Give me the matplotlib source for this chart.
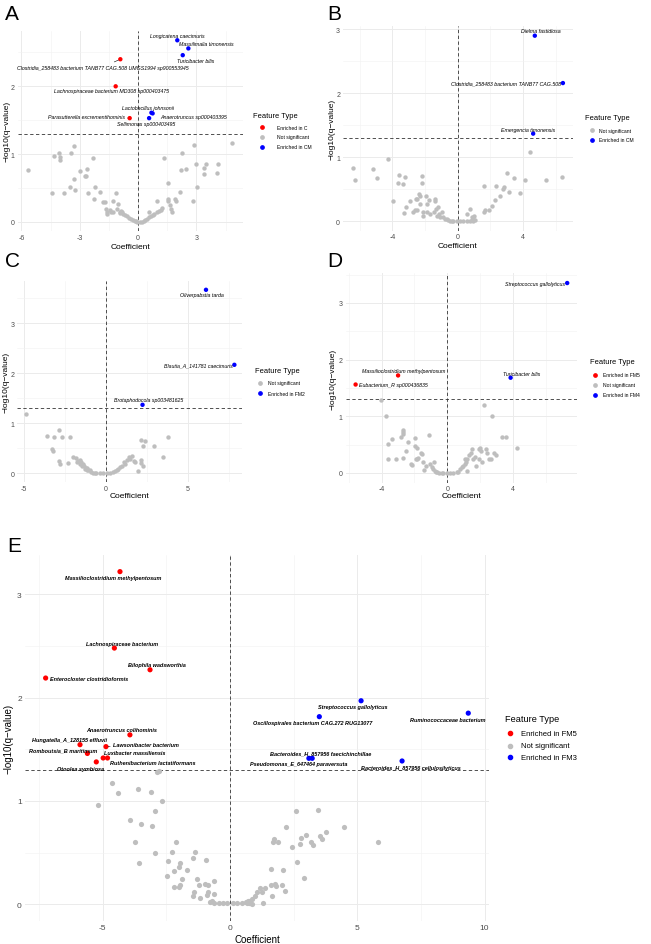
import matplotlib
matplotlib.use("Agg")
import matplotlib.pyplot as plt
from matplotlib.lines import Line2D
from matplotlib.ticker import MultipleLocator

plt.rcParams['font.family'] = ['Liberation Sans', 'DejaVu Sans']
plt.rcParams['axes.unicode_minus'] = False

W, H = 651, 945

# ---------------- panel A : C vs CM ----------------
a_ns_x = [-5.68, -4.44, -4.31, -4.05, -4.03, -4.01, -3.83, -3.5, -3.45, -3.29, -3.28, -3.22,
          -2.98, -2.74, -2.68, -2.61, -2.56, -2.33, -2.21, -2.25, -1.96, -1.78, -1.68, -1.65,
          -1.61, -1.58, -1.13, -1.27, -1.01, -1.44, -1.39, -1.27, -1.10, -0.95, -0.91, -0.86,
          -0.81, -0.75, -0.67, -0.58, -0.48, -0.38, -0.27, -0.17, -0.10, -0.05,
          0.10, 0.19, 0.31, 0.38, 0.45, 0.55, 0.65, 0.75, 0.84, 0.96, 1.06, 1.2, 1.23, 0.58,
          0.96, 1.34, 1.53, 1.53, 1.56, 1.65, 1.72, 1.75, 1.9, 1.96, 2.16, 2.21, 2.28, 2.45,
          2.85, 2.9, 2.97, 3.04, 3.38, 3.4, 3.52, 4.1, 4.08, 4.85]
a_ns_y = [0.76, 0.42, 0.97, 1.01, 0.95, 0.91, 0.42, 0.51, 1.02, 1.12, 0.63, 0.47,
          0.75, 0.68, 0.68, 0.78, 0.42, 0.94, 0.51, 0.33, 0.44, 0.29, 0.29, 0.19,
          0.14, 0.11, 0.43, 0.30, 0.26, 0.18, 0.14, 0.14, 0.19, 0.14, 0.13, 0.16,
          0.14, 0.12, 0.10, 0.08, 0.06, 0.04, 0.02, 0.015, 0.01, 0.0,
          0.0, 0.0, 0.01, 0.02, 0.04, 0.07, 0.09, 0.10, 0.11, 0.14, 0.16, 0.18, 0.21, 0.15,
          0.30, 0.94, 0.57, 0.34, 0.31, 0.25, 0.19, 0.14, 0.34, 0.30, 0.44, 0.77, 1.02, 0.78,
          0.30, 1.14, 0.86, 0.51, 0.70, 0.80, 0.86, 0.86, 0.72, 1.16]
a_sig_names = ["Longicatena caecimuris", "Massilimalia timonensis", "Turicibacter bilis",
               "Clostridia_258483 bacterium TANB77 CAG.508 UMGS1994 sp900553945",
               "Lachnospiraceae bacterium MD308 sp000403475", "Lactobacillus johnsonii",
               "Anaerotruncus sp000403395", "Parasutterella excrementihominis",
               "Sellimonas sp000403495"]
a_sig_x = [2.02, 2.59, 2.30, -0.91, -1.15, 0.69, 0.75, -0.43, 0.57]
a_sig_y = [2.68, 2.56, 2.46, 2.40, 2.00, 1.61, 1.60, 1.53, 1.53]
a_sig_grp = ["CM", "CM", "CM", "C", "C", "CM", "CM", "C", "CM"]
a_groups = ["C", "NS", "CM"]
a_group_labels = ["Enriched in C", "Not significant", "Enriched in CM"]

# ---------------- panel B : CM only ----------------
b_ns_x = [-6.42, -6.26, -5.17, -4.94, -4.29, -3.94, -3.65, -3.59, -3.38, -3.22, -3.15, -3.26,
          -2.93, -2.73, -2.6, -2.56, -2.48, -2.48, -2.36, -2.32, -2.28, -2.19, -2.19, -2.15,
          -2.11, -1.95, -1.91, -1.78, -1.87, -1.70, -1.39, -1.37, -1.44, -1.33, -1.29, -1.19,
          -1.13, -1.09, -0.98, -0.88, -0.78, -0.68, -0.57, -0.47, -0.37, -0.27, -0.06, 0.14,
          0.35, 0.55, 0.76, 0.86, 0.96, 1.07, 0.57, 0.78, 0.86, 0.92, 1.0,
          1.62, 1.6, 1.64, 1.93, 2.11, 2.26, 2.36, 2.56, 2.77, 2.83, 3.02, 3.12, 3.47, 3.8,
          4.1, 4.45, 5.4, 6.4]
b_ns_y = [0.84, 0.64, 0.81, 0.67, 0.98, 0.31, 0.60, 0.72, 0.58, 0.69, 0.23, 0.13,
          0.32, 0.14, 0.17, 0.35, 0.35, 0.17, 0.43, 0.39, 0.27, 0.71, 0.60, 0.15,
          0.09, 0.39, 0.27, 0.33, 0.14, 0.11, 0.35, 0.32, 0.14, 0.19, 0.09, 0.23,
          0.11, 0.06, 0.14, 0.06, 0.04, 0.03, 0.02, 0.01, 0.01, 0.0, 0.0, 0.0,
          0.0, 0.0, 0.01, 0.02, 0.01, 0.02, 0.12, 0.20, 0.06, 0.04, 0.09,
          0.55, 0.15, 0.17, 0.17, 0.24, 0.33, 0.55, 0.40, 0.50, 0.54, 0.76, 0.46, 0.68, 0.44,
          0.64, 1.09, 0.64, 0.70]
b_sig_names = ["Dielma fastidiosa", "Clostridia_258483 bacterium TANB77 CAG.508",
               "Emergencia timonensis"]
b_sig_x = [4.72, 6.44, 4.62]
b_sig_y = [2.90, 2.16, 1.37]
b_sig_grp = ["CM", "CM", "CM"]
b_groups = ["NS", "CM"]
b_group_labels = ["Not significant", "Enriched in CM"]

# ---------------- panel C : FM2 ----------------
c_ns_x = [-4.86, -3.62, -3.26, -3.22, -3.16, -2.85, -2.71, -2.89, -2.79, -2.19, -2.33,
          -1.98, -1.82, -1.71, -1.61, -1.51, -1.40, -1.34, -1.24, -1.16, -1.07, -0.99, -0.89,
          -0.79, -0.68, -0.58, -0.37, -0.17, 0.04, 0.25, 0.45, 0.56, 0.66, 0.76, 0.87, 0.97,
          1.07, 1.18, 1.28, 1.38, 1.49, 1.59, 1.69, 1.80, 1.94, -1.78, -1.61, -1.45, -1.30,
          -1.16, 2.13, 2.15, 2.11, 2.27, 2.36, 2.93, 3.49, 3.76, 2.23]
c_ns_y = [1.18, 0.75, 0.49, 0.45, 0.73, 0.87, 0.73, 0.25, 0.19, 0.73, 0.20,
          0.32, 0.30, 0.25, 0.27, 0.22, 0.19, 0.14, 0.11, 0.10, 0.07, 0.06, 0.03,
          0.01, 0.01, 0.0, 0.0, 0.0, 0.0, 0.01, 0.02, 0.05, 0.07, 0.09, 0.12, 0.15,
          0.22, 0.19, 0.27, 0.32, 0.29, 0.34, 0.25, 0.22, 0.05, 0.22, 0.19, 0.15, 0.09,
          0.07, 0.21, 0.27, 0.66, 0.54, 0.65, 0.54, 0.33, 0.73, 0.15]
c_sig_names = ["Oliverpabstia tarda", "Blautia_A_141781 caecimuris",
               "Brotaphodocola sp003481625"]
c_sig_x = [6.10, 7.83, 2.23]
c_sig_y = [3.67, 2.17, 1.37]
c_sig_grp = ["FM2", "FM2", "FM2"]
c_groups = ["NS", "FM2"]
c_group_labels = ["Not significant", "Enriched in FM2"]

# ---------------- panel D : FM5 vs FM4 ----------------
d_ns_x = [-4.02, -3.76, -3.61, -3.61, -3.35, -3.14, -2.84, -2.73, -2.69, -2.69, -2.73, -2.53,
          -2.39, -2.20, -2.16, -1.98, -1.98, -1.84, -1.92, -1.84, -1.78, -1.63, -1.55, -1.51,
          -1.39, -1.27, -1.12, -1.06, -0.96, -0.86, -0.78, -0.69, -0.61, -0.49, -0.35, -0.24,
          -0.04, 0.16, 0.37, 0.57, 0.67, 0.78, 0.88, 0.98, 1.08, 1.14, 1.18, -0.82, 1.08,
          1.22, 1.35, 1.43, 1.49, 1.59, 1.76, 1.69, 1.92, 2.0, 2.04, 1.96, 2.10, 2.24, 2.37,
          2.45, 2.57, 2.69, 2.82, 2.71, 2.98, 3.33, 3.59, 4.24]
d_ns_y = [1.29, 1.01, 0.51, 0.24, 0.60, 0.24, 0.63, 0.76, 0.72, 0.69, 0.26, 0.39,
          0.55, 0.16, 0.14, 0.62, 0.48, 0.44, 0.25, 0.24, 0.26, 0.35, 0.34, 0.19,
          0.06, 0.13, 0.67, 0.16, 0.10, 0.07, 0.04, 0.02, 0.01, 0.0, 0.0, 0.0,
          0.0, 0.0, 0.0, 0.01, 0.02, 0.07, 0.10, 0.12, 0.16, 0.19, 0.04, 0.19, 0.25,
          0.25, 0.31, 0.36, 0.42, 0.24, 0.12, 0.29, 0.42, 0.44, 0.39, 0.25, 0.19, 1.19, 0.42,
          0.35, 0.24, 0.25, 0.35, 1.01, 0.32, 0.64, 0.64, 0.44]
d_sig_names = ["Streptococcus gallolyticus", "Massilioclostridium methylpentosum",
               "Eubacterium_R sp000436835", "Turicibacter bilis"]
d_sig_x = [7.31, -3.00, -5.59, 3.86]
d_sig_y = [3.35, 1.72, 1.56, 1.68]
d_sig_grp = ["FM4", "FM5", "FM5", "FM4"]
d_groups = ["FM5", "NS", "FM4"]
d_group_labels = ["Enriched in FM5", "Not significant", "Enriched in FM4"]

# ---------------- panel E : FM5 vs FM3 ----------------
e_ns_x = [-2.85, -2.77, -4.65, -4.39, -3.63, -3.11, -2.65, -5.17, -2.93, -3.93, -3.5, -3.08,
          -3.73, -2.11, -2.95, -2.26, -1.39, -1.44, -0.93, -3.57, -2.45, -1.95, -2.01, -2.21,
          -1.70, -2.49, -1.88, -1.28, -0.64, -1.21, -0.98, -0.88, -1.95, -2.0, -2.19, -1.42,
          -0.88, -0.61, -1.46, -1.18, -0.9, -0.77, -0.69, -0.61, -0.44, -0.28, -0.11, 0.13,
          0.29, 0.46, 0.62, 0.70, 0.79, 0.87,
          2.59, 3.44, 2.19, 4.48, 3.78, 2.98, 2.78, 3.54, 3.6, 1.72, 1.69, 1.90, 5.83, 3.18,
          3.27, 2.75, 2.45, 2.62, 1.60, 2.09, 2.91, 1.60, 1.77, 1.80, 2.05, 2.18, 1.64, 0.98,
          1.19, 1.37, 1.24, 1.05, 1.28, 0.75, 0.86, 0.65, 0.73]
e_ns_y = [1.28, 1.29, 1.17, 1.08, 1.12, 1.09, 1.00, 0.96, 0.90, 0.82, 0.78, 0.76,
          0.60, 0.60, 0.50, 0.51, 0.51, 0.45, 0.43, 0.40, 0.42, 0.40, 0.36, 0.32,
          0.33, 0.27, 0.24, 0.24, 0.23, 0.19, 0.20, 0.19, 0.19, 0.17, 0.17, 0.12,
          0.12, 0.10, 0.08, 0.06, 0.09, 0.02, 0.03, 0.01, 0.01, 0.01, 0.01, 0.01,
          0.01, 0.01, 0.02, 0.03, 0.01, 0.0,
          0.90, 0.91, 0.75, 0.75, 0.70, 0.67, 0.64, 0.66, 0.63, 0.63, 0.60, 0.60, 0.60, 0.60,
          0.57, 0.58, 0.55, 0.41, 0.34, 0.33, 0.25, 0.19, 0.20, 0.18, 0.19, 0.13, 0.08, 0.08,
          0.16, 0.16, 0.12, 0.12, 0.01, 0.03, 0.05, 0.01, 0.01]
e_sig_names = ["Massilioclostridium methylpentosum", "Lachnospiraceae bacterium",
               "Bilophila wadsworthia", "Enterocloster clostridioformis",
               "Anaerotruncus colihominis", "Hungatella_A_128155 effluvii",
               "Lawsonibacter bacterium", "Romboutsia_B maritimum", "Luxibacter massiliensis",
               "Ruthenibacterium lactatiformans", "Otoolea symbiosa",
               "Streptococcus gallolyticus", "Oscillospirales bacterium CAG.272 RUG13077",
               "Ruminococcaceae bacterium", "Bacteroides_H_857956 faecichinchillae",
               "Pseudomonas_E_647464 paraversuta", "Bacteroides_H_857956 cellulosilyticus"]
e_sig_x = [-4.32, -4.54, -3.14, -7.24, -3.93, -5.89, -4.87, -5.60, -4.98, -4.81, -5.25,
           5.15, 3.51, 9.36, 3.23, 3.10, 6.76]
e_sig_y = [3.22, 2.48, 2.27, 2.19, 1.64, 1.545, 1.526, 1.46, 1.416, 1.416, 1.378,
           1.97, 1.816, 1.85, 1.413, 1.413, 1.387]
e_sig_grp = ["FM5"] * 11 + ["FM3"] * 6
e_groups = ["FM5", "NS", "FM3"]
e_group_labels = ["Enriched in FM5", "Not significant", "Enriched in FM3"]

# label placement (offset pixels from the point, alignment, leader segment)
a_lab = [(0, 5, 'center', 0), (18, 5, 'center', 0), (13, -5, 'center', 0),
         (-18, -8, 'center', 1), (-4, -4, 'center', 0), (-4, 5, 'center', 0),
         (8, -3, 'left', 0), (-5, 2, 'right', 1), (-3, -5, 'center', 0)]
b_lab = [(6, 5, 'center', 0), (-2, 0, 'right', 0), (-5, 4, 'center', 0)]
c_lab = [(-4, -4.5, 'center', 0), (-2, 0, 'right', 0), (6, 5, 'center', 0)]
d_lab = [(-2, 0, 'right', 0), (6, 4.5, 'center', 0), (3, 0, 'left', 0), (11, 4.5, 'center', 0)]
e_lab = [(-7, -5.7, 'center', 0), (8, 5, 'center', 0), (7, 5.4, 'center', 0),
         (4, 0, 'left', 0), (-8, 5, 'center', 0), (-11, 5, 'center', 0), (7, 2, 'left', 1),
         (-24, 3.3, 'center', 0), (1, 5, 'left', 0), (3, -5, 'left', 0), (-16, -6.7, 'center', 0),
         (-8, -5.7, 'center', 0), (-7, -6, 'center', 0), (-21, -6, 'center', 0),
         (8, 5, 'center', 0), (-10.5, -5.7, 'center', 0), (9, -6.7, 'center', 0)]

colors = {"C": "red", "FM5": "red", "CM": "blue", "FM2": "blue", "FM4": "blue",
          "FM3": "blue", "NS": "#BEBEBE"}

fig = plt.figure(figsize=(W / 100, H / 100), dpi=100)


def fx(px):
    return px / W


def fy(py):
    return 1 - py / H


def panel(box, xlim, ylim, xmaj, ymaj, ns_x, ns_y, names, sx, sy, grp, lab,
          tick_fs, title_fs, lab_fs, lab_weight, pt_size, ylab_px, xlab_py):
    left, top, right, bottom = box
    ax = fig.add_axes([fx(left), fy(bottom), (right - left) / W, (bottom - top) / H])
    ax.set_xlim(xlim)
    ax.set_ylim(ylim)
    ax.xaxis.set_major_locator(MultipleLocator(xmaj))
    ax.xaxis.set_minor_locator(MultipleLocator(xmaj / 2))
    ax.yaxis.set_major_locator(MultipleLocator(ymaj))
    ax.yaxis.set_minor_locator(MultipleLocator(ymaj / 2))
    ax.grid(which='major', color='#EBEBEB', lw=0.7)
    ax.grid(which='minor', color='#F2F2F2', lw=0.4)
    ax.set_axisbelow(True)
    for s in ax.spines.values():
        s.set_visible(False)
    ax.tick_params(which='both', length=0, labelsize=tick_fs, labelcolor='#4D4D4D', pad=2)

    ax.scatter(ns_x, ns_y, s=pt_size, color=colors["NS"], lw=0, zorder=2)
    ax.scatter(sx, sy, s=pt_size, color=[colors[g] for g in grp], lw=0, zorder=3)
    ax.axhline(1.30103, color='#333333', lw=0.6, ls=(0, (4, 3)), zorder=1)
    ax.axvline(0, color='#333333', lw=0.6, ls=(0, (4, 3)), zorder=1)

    for n, x, y, (dx, dy, ha, seg) in zip(names, sx, sy, lab):
        kw = {}
        if seg:
            kw['arrowprops'] = dict(arrowstyle='-', lw=0.4, color='black',
                                    shrinkA=0, shrinkB=1.5)
        ax.annotate(n, (x, y), xytext=(dx, dy), textcoords='offset pixels',
                    ha=ha, va='center', fontsize=lab_fs, fontstyle='italic',
                    fontweight=lab_weight, zorder=4, **kw)

    ax.set_xlabel('Coefficient', fontsize=title_fs)
    ax.set_ylabel('\u2212log10(q\u2212value)', fontsize=title_fs)
    ax.xaxis.set_label_coords(0.5, (bottom - xlab_py) / (bottom - top))
    ax.yaxis.set_label_coords((ylab_px - left) / (right - left), 0.5)
    ax.xaxis.label.set_va('center')
    ax.yaxis.label.set_va('center')
    return ax


def legend(tx, ty, dot_x, text_x, ys, groups, labels, title_fs, text_fs, dot_ms):
    fig.text(fx(tx), fy(ty), 'Feature Type', fontsize=title_fs, va='center', ha='left')
    for g, lbl, y in zip(groups, labels, ys):
        fig.add_artist(Line2D([fx(dot_x)], [fy(y)], marker='o', ms=dot_ms, lw=0,
                              color=colors[g], transform=fig.transFigure))
        fig.text(fx(text_x), fy(y), lbl, fontsize=text_fs, va='center', ha='left')


# A
panel((17.5, 31.8, 243, 231.8), (-6.2, 5.4), (-0.134, 2.82), 3, 1,
      a_ns_x, a_ns_y, a_sig_names, a_sig_x, a_sig_y, a_sig_grp, a_lab,
      5, 6, 3.8, 'normal', 10, 7, 247)
legend(253, 116.7, 262, 277, [128.3, 137.7, 147.7], a_groups, a_group_labels, 5.4, 3.6, 2.4)

# B
panel((342.9, 27.4, 572.7, 231.6), (-7.03, 7.04), (-0.145, 3.045), 4, 1,
      b_ns_x, b_ns_y, b_sig_names, b_sig_x, b_sig_y, b_sig_grp, b_lab,
      5, 6, 3.8, 'normal', 10, 332, 246.7)
legend(585, 118.3, 592, 599, [131, 140.7], b_groups, b_group_labels, 5.4, 3.6, 2.4)

# C
panel((17.4, 281.8, 242.4, 483.3), (-5.4, 8.32), (-0.18, 3.85), 5, 1,
      c_ns_x, c_ns_y, c_sig_names, c_sig_x, c_sig_y, c_sig_grp, c_lab,
      5, 6, 3.8, 'normal', 10, 6, 497)
legend(255, 371.7, 260, 268, [384, 394.3], c_groups, c_group_labels, 5.4, 3.6, 2.4)

# D
panel((345.6, 274.4, 577.2, 483.6), (-6.2, 7.92), (-0.17, 3.52), 4, 1,
      d_ns_x, d_ns_y, d_sig_names, d_sig_x, d_sig_y, d_sig_grp, d_lab,
      5, 6, 3.8, 'normal', 10, 333, 497)
legend(590, 362.7, 595, 603, [375.7, 385.7, 395.7], d_groups, d_group_labels, 5.4, 3.6, 2.4)

# E
panel((24.5, 556.1, 489.4, 921.9), (-8.07, 10.19), (-0.161, 3.38), 5, 1,
      e_ns_x, e_ns_y, e_sig_names, e_sig_x, e_sig_y, e_sig_grp, e_lab,
      6, 7, 4.0, 'bold', 14, 9, 940)
legend(504.7, 719, 510, 521, [734.3, 746.7, 758.3], e_groups, e_group_labels, 6.6, 5.5, 3)

for letter, x, y in [('A', 5, 5), ('B', 327, 5), ('C', 5, 252), ('D', 327, 252), ('E', 7, 537)]:
    fig.text(fx(x), fy(y), letter, fontsize=15, va='top', ha='left')

fig.savefig('out.png', dpi=100)
